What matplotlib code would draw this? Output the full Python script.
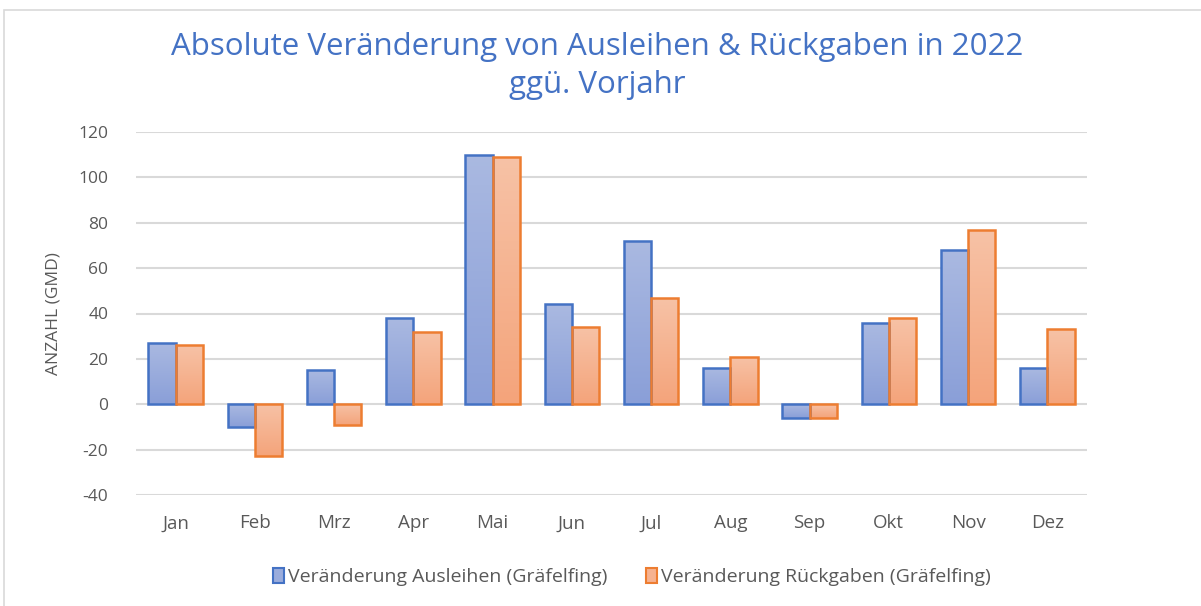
import numpy as np
import matplotlib
matplotlib.use("Agg")
import matplotlib.pyplot as plt
from matplotlib.colors import LinearSegmentedColormap
from matplotlib.patches import Rectangle, Patch

monate = ['Jan', 'Feb', 'Mrz', 'Apr', 'Mai', 'Jun', 'Jul', 'Aug', 'Sep', 'Okt', 'Nov', 'Dez']
ausleihen = [27, -10, 15, 38, 110, 44, 72, 16, -6, 36, 68, 16]
rueckgaben = [26, -23, -9, 32, 109, 34, 47, 21, -6, 38, 77, 33]
namen = ['Veränderung Ausleihen (Gräfelfing)', 'Veränderung Rückgaben (Gräfelfing)']

plt.rcParams['font.family'] = ['Open Sans', 'DejaVu Sans']
plt.rcParams['axes.unicode_minus'] = False
grau = '#595959'

fig = plt.figure(figsize=(12.01, 6.06), dpi=100)
ax = fig.add_axes([136/1201, 1-495/606, (1087-136)/1201, (495-132)/606])

# rahmen ums diagramm
fig.patches.append(Rectangle((4/1201, -0.01), 1.0, 1-10/606+0.01, transform=fig.transFigure,
                             fill=False, edgecolor='#D9D9D9', linewidth=1.2))

x = np.arange(len(monate))
w = 0.345
blau = LinearSegmentedColormap.from_list('b', ['#8A9FD8', '#AAB9E1'])
orange = LinearSegmentedColormap.from_list('o', ['#F4A47B', '#F7C2A6'])
grad = np.linspace(0, 1, 64).reshape(-1, 1)

def balken(pos, werte, cmap, kante):
    bars = ax.bar(pos, werte, w, facecolor='none', edgecolor=kante, linewidth=1.8, zorder=3)
    for b in bars:
        x0, y0 = b.get_x(), b.get_y()
        h = b.get_height()
        lo, hi = min(y0, y0 + h), max(y0, y0 + h)
        im = ax.imshow(grad, cmap=cmap, aspect='auto', origin='lower',
                       extent=[x0, x0 + b.get_width(), lo, hi], zorder=2)
        im.set_clip_path(b)
    return bars

balken(x - w/2, ausleihen, blau, '#4472C4')
balken(x + w/2, rueckgaben, orange, '#ED7D31')

ax.set_xlim(-0.5, len(monate) - 0.5)
ax.set_ylim(-40, 120)
ax.set_yticks(range(-40, 121, 20))
ax.yaxis.grid(True, color='#D9D9D9', linewidth=1.5, zorder=0)
ax.set_axisbelow(True)
for s in ax.spines.values():
    s.set_visible(False)
ax.tick_params(length=0)
ax.set_xticks(x)
ax.set_xticklabels(monate, fontsize=13.5, color=grau)
ax.tick_params(axis='x', pad=14)
ax.tick_params(axis='y', pad=20, labelsize=12.5, labelcolor=grau)
ax.set_ylabel('ANZAHL (GMD)', fontsize=12.5, color=grau, labelpad=12)

fig.text(0.497, 1-47/606, 'Absolute Veränderung von Ausleihen & Rückgaben in 2022',
         ha='center', va='center', fontsize=22.5, color='#4472C4')
fig.text(0.497, 1-85/606, 'ggü. Vorjahr', ha='center', va='center', fontsize=22.5, color='#4472C4')

handles = [Patch(facecolor='#9AACDC', edgecolor='#4472C4', linewidth=1.5),
           Patch(facecolor='#F6B290', edgecolor='#ED7D31', linewidth=1.5)]
fig.legend(handles, namen, loc='center', bbox_to_anchor=(0.526, 1-577/606), ncol=2,
           frameon=False, fontsize=14, labelcolor=grau, handlelength=0.55, handleheight=0.85,
           handletextpad=0.2, columnspacing=2.0)

fig.savefig('out.png', dpi=100)
